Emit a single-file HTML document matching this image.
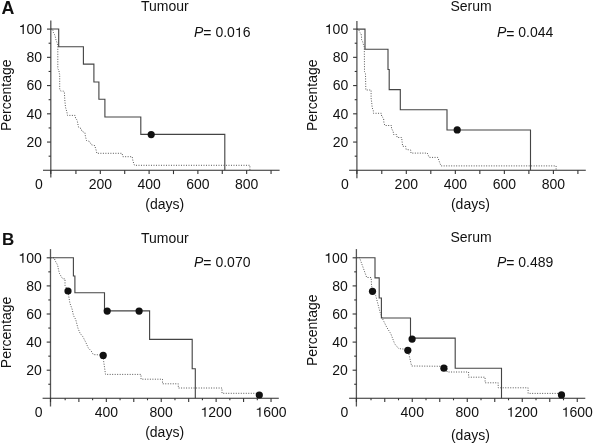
<!DOCTYPE html>
<html><head><meta charset="utf-8"><style>
html,body{margin:0;padding:0;background:#fff;}
svg{display:block;will-change:transform;}
text{font-family:"Liberation Sans", sans-serif;fill:#111;}
</style></head><body>
<svg width="593" height="444" viewBox="0 0 593 444">
<line x1="50.8" y1="20.5" x2="50.8" y2="177.5" stroke="#555" stroke-width="1.3"/>
<line x1="43" y1="170.3" x2="279.6" y2="170.3" stroke="#2a2a2a" stroke-width="1.05"/>
<line x1="48.6" y1="156.18" x2="50.8" y2="156.18" stroke="#333" stroke-width="1.1"/>
<line x1="47" y1="142.06" x2="50.8" y2="142.06" stroke="#333" stroke-width="1.1"/>
<line x1="48.6" y1="127.94" x2="50.8" y2="127.94" stroke="#333" stroke-width="1.1"/>
<line x1="47" y1="113.82" x2="50.8" y2="113.82" stroke="#333" stroke-width="1.1"/>
<line x1="48.6" y1="99.7" x2="50.8" y2="99.7" stroke="#333" stroke-width="1.1"/>
<line x1="47" y1="85.58" x2="50.8" y2="85.58" stroke="#333" stroke-width="1.1"/>
<line x1="48.6" y1="71.46" x2="50.8" y2="71.46" stroke="#333" stroke-width="1.1"/>
<line x1="47" y1="57.34" x2="50.8" y2="57.34" stroke="#333" stroke-width="1.1"/>
<line x1="48.6" y1="43.22" x2="50.8" y2="43.22" stroke="#333" stroke-width="1.1"/>
<line x1="47" y1="29.1" x2="50.8" y2="29.1" stroke="#333" stroke-width="1.1"/>
<text x="26.53" y="146.96" font-size="14.0">20</text>
<text x="26.53" y="118.72" font-size="14.0">40</text>
<text x="26.53" y="90.48" font-size="14.0">60</text>
<text x="26.53" y="62.24" font-size="14.0">80</text>
<text x="18.74" y="34" font-size="14.0"> 00</text>
<path d="M740 0L740 1409L612 1409C585 1262 478 1165 196 1148L196 1022L566 1022L566 0Z" fill="#111" transform="translate(18.74 34) scale(0.006836 -0.006836)"/>
<line x1="50.8" y1="170.3" x2="50.8" y2="174.1" stroke="#333" stroke-width="1.1"/>
<line x1="75.93" y1="170.3" x2="75.93" y2="174.1" stroke="#333" stroke-width="1.1"/>
<line x1="100.32" y1="170.3" x2="100.32" y2="174.1" stroke="#333" stroke-width="1.1"/>
<line x1="124.71" y1="170.3" x2="124.71" y2="174.1" stroke="#333" stroke-width="1.1"/>
<line x1="149.1" y1="170.3" x2="149.1" y2="174.1" stroke="#333" stroke-width="1.1"/>
<line x1="173.49" y1="170.3" x2="173.49" y2="174.1" stroke="#333" stroke-width="1.1"/>
<line x1="197.88" y1="170.3" x2="197.88" y2="174.1" stroke="#333" stroke-width="1.1"/>
<line x1="222.27" y1="170.3" x2="222.27" y2="174.1" stroke="#333" stroke-width="1.1"/>
<line x1="246.66" y1="170.3" x2="246.66" y2="174.1" stroke="#333" stroke-width="1.1"/>
<line x1="271.05" y1="170.3" x2="271.05" y2="174.1" stroke="#333" stroke-width="1.1"/>
<text x="88.64" y="188.8" font-size="14.0">200</text>
<text x="137.42" y="188.8" font-size="14.0">400</text>
<text x="186.2" y="188.8" font-size="14.0">600</text>
<text x="234.98" y="188.8" font-size="14.0">800</text>
<text x="35" y="188.8" font-size="14.0" text-anchor="start" font-weight="normal" >0</text>
<line x1="356.9" y1="20.9" x2="356.9" y2="178.3" stroke="#555" stroke-width="1.3"/>
<line x1="349.1" y1="170.3" x2="585.8" y2="170.3" stroke="#2a2a2a" stroke-width="1.05"/>
<line x1="354.7" y1="156.18" x2="356.9" y2="156.18" stroke="#333" stroke-width="1.1"/>
<line x1="353.1" y1="142.06" x2="356.9" y2="142.06" stroke="#333" stroke-width="1.1"/>
<line x1="354.7" y1="127.94" x2="356.9" y2="127.94" stroke="#333" stroke-width="1.1"/>
<line x1="353.1" y1="113.82" x2="356.9" y2="113.82" stroke="#333" stroke-width="1.1"/>
<line x1="354.7" y1="99.7" x2="356.9" y2="99.7" stroke="#333" stroke-width="1.1"/>
<line x1="353.1" y1="85.58" x2="356.9" y2="85.58" stroke="#333" stroke-width="1.1"/>
<line x1="354.7" y1="71.46" x2="356.9" y2="71.46" stroke="#333" stroke-width="1.1"/>
<line x1="353.1" y1="57.34" x2="356.9" y2="57.34" stroke="#333" stroke-width="1.1"/>
<line x1="354.7" y1="43.22" x2="356.9" y2="43.22" stroke="#333" stroke-width="1.1"/>
<line x1="353.1" y1="29.1" x2="356.9" y2="29.1" stroke="#333" stroke-width="1.1"/>
<text x="332.63" y="146.96" font-size="14.0">20</text>
<text x="332.63" y="118.72" font-size="14.0">40</text>
<text x="332.63" y="90.48" font-size="14.0">60</text>
<text x="332.63" y="62.24" font-size="14.0">80</text>
<text x="324.84" y="34" font-size="14.0"> 00</text>
<path d="M740 0L740 1409L612 1409C585 1262 478 1165 196 1148L196 1022L566 1022L566 0Z" fill="#111" transform="translate(324.84 34) scale(0.006836 -0.006836)"/>
<line x1="356.9" y1="170.3" x2="356.9" y2="174.1" stroke="#333" stroke-width="1.1"/>
<line x1="381.78" y1="170.3" x2="381.78" y2="174.1" stroke="#333" stroke-width="1.1"/>
<line x1="406.3" y1="170.3" x2="406.3" y2="174.1" stroke="#333" stroke-width="1.1"/>
<line x1="430.81" y1="170.3" x2="430.81" y2="174.1" stroke="#333" stroke-width="1.1"/>
<line x1="455.33" y1="170.3" x2="455.33" y2="174.1" stroke="#333" stroke-width="1.1"/>
<line x1="479.84" y1="170.3" x2="479.84" y2="174.1" stroke="#333" stroke-width="1.1"/>
<line x1="504.36" y1="170.3" x2="504.36" y2="174.1" stroke="#333" stroke-width="1.1"/>
<line x1="528.88" y1="170.3" x2="528.88" y2="174.1" stroke="#333" stroke-width="1.1"/>
<line x1="553.39" y1="170.3" x2="553.39" y2="174.1" stroke="#333" stroke-width="1.1"/>
<line x1="577.9" y1="170.3" x2="577.9" y2="174.1" stroke="#333" stroke-width="1.1"/>
<text x="394.62" y="188.8" font-size="14.0">200</text>
<text x="443.65" y="188.8" font-size="14.0">400</text>
<text x="492.68" y="188.8" font-size="14.0">600</text>
<text x="541.71" y="188.8" font-size="14.0">800</text>
<text x="341.1" y="188.8" font-size="14.0" text-anchor="start" font-weight="normal" >0</text>
<line x1="50.5" y1="249.1" x2="50.5" y2="406.5" stroke="#555" stroke-width="1.3"/>
<line x1="42.6" y1="398.3" x2="278.8" y2="398.3" stroke="#2a2a2a" stroke-width="1.05"/>
<line x1="48.3" y1="384.25" x2="50.5" y2="384.25" stroke="#333" stroke-width="1.1"/>
<line x1="46.7" y1="370.2" x2="50.5" y2="370.2" stroke="#333" stroke-width="1.1"/>
<line x1="48.3" y1="356.15" x2="50.5" y2="356.15" stroke="#333" stroke-width="1.1"/>
<line x1="46.7" y1="342.1" x2="50.5" y2="342.1" stroke="#333" stroke-width="1.1"/>
<line x1="48.3" y1="328.05" x2="50.5" y2="328.05" stroke="#333" stroke-width="1.1"/>
<line x1="46.7" y1="314" x2="50.5" y2="314" stroke="#333" stroke-width="1.1"/>
<line x1="48.3" y1="299.95" x2="50.5" y2="299.95" stroke="#333" stroke-width="1.1"/>
<line x1="46.7" y1="285.9" x2="50.5" y2="285.9" stroke="#333" stroke-width="1.1"/>
<line x1="48.3" y1="271.85" x2="50.5" y2="271.85" stroke="#333" stroke-width="1.1"/>
<line x1="46.7" y1="257.8" x2="50.5" y2="257.8" stroke="#333" stroke-width="1.1"/>
<text x="26.23" y="375.1" font-size="14.0">20</text>
<text x="26.23" y="347" font-size="14.0">40</text>
<text x="26.23" y="318.9" font-size="14.0">60</text>
<text x="26.23" y="290.8" font-size="14.0">80</text>
<text x="18.44" y="262.7" font-size="14.0"> 00</text>
<path d="M740 0L740 1409L612 1409C585 1262 478 1165 196 1148L196 1022L566 1022L566 0Z" fill="#111" transform="translate(18.44 262.7) scale(0.006836 -0.006836)"/>
<line x1="50.5" y1="398.3" x2="50.5" y2="402.1" stroke="#333" stroke-width="1.1"/>
<line x1="65.16" y1="398.3" x2="65.16" y2="400.3" stroke="#333" stroke-width="1.1"/>
<line x1="78.88" y1="398.3" x2="78.88" y2="402.1" stroke="#333" stroke-width="1.1"/>
<line x1="92.61" y1="398.3" x2="92.61" y2="400.3" stroke="#333" stroke-width="1.1"/>
<line x1="106.33" y1="398.3" x2="106.33" y2="402.1" stroke="#333" stroke-width="1.1"/>
<line x1="120.06" y1="398.3" x2="120.06" y2="400.3" stroke="#333" stroke-width="1.1"/>
<line x1="133.78" y1="398.3" x2="133.78" y2="402.1" stroke="#333" stroke-width="1.1"/>
<line x1="147.5" y1="398.3" x2="147.5" y2="400.3" stroke="#333" stroke-width="1.1"/>
<line x1="161.23" y1="398.3" x2="161.23" y2="402.1" stroke="#333" stroke-width="1.1"/>
<line x1="174.96" y1="398.3" x2="174.96" y2="400.3" stroke="#333" stroke-width="1.1"/>
<line x1="188.68" y1="398.3" x2="188.68" y2="402.1" stroke="#333" stroke-width="1.1"/>
<line x1="202.41" y1="398.3" x2="202.41" y2="400.3" stroke="#333" stroke-width="1.1"/>
<line x1="216.13" y1="398.3" x2="216.13" y2="402.1" stroke="#333" stroke-width="1.1"/>
<line x1="229.86" y1="398.3" x2="229.86" y2="400.3" stroke="#333" stroke-width="1.1"/>
<line x1="243.58" y1="398.3" x2="243.58" y2="402.1" stroke="#333" stroke-width="1.1"/>
<line x1="257.31" y1="398.3" x2="257.31" y2="400.3" stroke="#333" stroke-width="1.1"/>
<line x1="271.03" y1="398.3" x2="271.03" y2="402.1" stroke="#333" stroke-width="1.1"/>
<text x="94.65" y="416.8" font-size="14.0">400</text>
<text x="149.55" y="416.8" font-size="14.0">800</text>
<text x="200.56" y="416.8" font-size="14.0"> 200</text>
<path d="M740 0L740 1409L612 1409C585 1262 478 1165 196 1148L196 1022L566 1022L566 0Z" fill="#111" transform="translate(200.56 416.8) scale(0.006836 -0.006836)"/>
<text x="255.46" y="416.8" font-size="14.0"> 600</text>
<path d="M740 0L740 1409L612 1409C585 1262 478 1165 196 1148L196 1022L566 1022L566 0Z" fill="#111" transform="translate(255.46 416.8) scale(0.006836 -0.006836)"/>
<text x="34.7" y="416.8" font-size="14.0" text-anchor="start" font-weight="normal" >0</text>
<line x1="356.4" y1="249.1" x2="356.4" y2="406.5" stroke="#555" stroke-width="1.3"/>
<line x1="349.1" y1="398.3" x2="585.3" y2="398.3" stroke="#2a2a2a" stroke-width="1.05"/>
<line x1="354.2" y1="384.25" x2="356.4" y2="384.25" stroke="#333" stroke-width="1.1"/>
<line x1="352.6" y1="370.2" x2="356.4" y2="370.2" stroke="#333" stroke-width="1.1"/>
<line x1="354.2" y1="356.15" x2="356.4" y2="356.15" stroke="#333" stroke-width="1.1"/>
<line x1="352.6" y1="342.1" x2="356.4" y2="342.1" stroke="#333" stroke-width="1.1"/>
<line x1="354.2" y1="328.05" x2="356.4" y2="328.05" stroke="#333" stroke-width="1.1"/>
<line x1="352.6" y1="314" x2="356.4" y2="314" stroke="#333" stroke-width="1.1"/>
<line x1="354.2" y1="299.95" x2="356.4" y2="299.95" stroke="#333" stroke-width="1.1"/>
<line x1="352.6" y1="285.9" x2="356.4" y2="285.9" stroke="#333" stroke-width="1.1"/>
<line x1="354.2" y1="271.85" x2="356.4" y2="271.85" stroke="#333" stroke-width="1.1"/>
<line x1="352.6" y1="257.8" x2="356.4" y2="257.8" stroke="#333" stroke-width="1.1"/>
<text x="332.13" y="375.1" font-size="14.0">20</text>
<text x="332.13" y="347" font-size="14.0">40</text>
<text x="332.13" y="318.9" font-size="14.0">60</text>
<text x="332.13" y="290.8" font-size="14.0">80</text>
<text x="324.34" y="262.7" font-size="14.0"> 00</text>
<path d="M740 0L740 1409L612 1409C585 1262 478 1165 196 1148L196 1022L566 1022L566 0Z" fill="#111" transform="translate(324.34 262.7) scale(0.006836 -0.006836)"/>
<line x1="356.4" y1="398.3" x2="356.4" y2="402.1" stroke="#333" stroke-width="1.1"/>
<line x1="371.01" y1="398.3" x2="371.01" y2="400.3" stroke="#333" stroke-width="1.1"/>
<line x1="384.76" y1="398.3" x2="384.76" y2="402.1" stroke="#333" stroke-width="1.1"/>
<line x1="398.51" y1="398.3" x2="398.51" y2="400.3" stroke="#333" stroke-width="1.1"/>
<line x1="412.26" y1="398.3" x2="412.26" y2="402.1" stroke="#333" stroke-width="1.1"/>
<line x1="426.01" y1="398.3" x2="426.01" y2="400.3" stroke="#333" stroke-width="1.1"/>
<line x1="439.76" y1="398.3" x2="439.76" y2="402.1" stroke="#333" stroke-width="1.1"/>
<line x1="453.51" y1="398.3" x2="453.51" y2="400.3" stroke="#333" stroke-width="1.1"/>
<line x1="467.26" y1="398.3" x2="467.26" y2="402.1" stroke="#333" stroke-width="1.1"/>
<line x1="481.01" y1="398.3" x2="481.01" y2="400.3" stroke="#333" stroke-width="1.1"/>
<line x1="494.76" y1="398.3" x2="494.76" y2="402.1" stroke="#333" stroke-width="1.1"/>
<line x1="508.51" y1="398.3" x2="508.51" y2="400.3" stroke="#333" stroke-width="1.1"/>
<line x1="522.26" y1="398.3" x2="522.26" y2="402.1" stroke="#333" stroke-width="1.1"/>
<line x1="536.01" y1="398.3" x2="536.01" y2="400.3" stroke="#333" stroke-width="1.1"/>
<line x1="549.76" y1="398.3" x2="549.76" y2="402.1" stroke="#333" stroke-width="1.1"/>
<line x1="563.51" y1="398.3" x2="563.51" y2="400.3" stroke="#333" stroke-width="1.1"/>
<line x1="577.26" y1="398.3" x2="577.26" y2="402.1" stroke="#333" stroke-width="1.1"/>
<text x="400.58" y="416.8" font-size="14.0">400</text>
<text x="455.58" y="416.8" font-size="14.0">800</text>
<text x="506.69" y="416.8" font-size="14.0"> 200</text>
<path d="M740 0L740 1409L612 1409C585 1262 478 1165 196 1148L196 1022L566 1022L566 0Z" fill="#111" transform="translate(506.69 416.8) scale(0.006836 -0.006836)"/>
<text x="561.69" y="416.8" font-size="14.0"> 600</text>
<path d="M740 0L740 1409L612 1409C585 1262 478 1165 196 1148L196 1022L566 1022L566 0Z" fill="#111" transform="translate(561.69 416.8) scale(0.006836 -0.006836)"/>
<text x="340.6" y="416.8" font-size="14.0" text-anchor="start" font-weight="normal" >0</text>
<path d="M50.8 29.05 H58.7 V46.8 H83.4 V64.1 H93.9 V82 H98.9 V99.2 H104.9 V117 H140.8 V134.4 H224.8 V170.3" fill="none" stroke="#444" stroke-width="1.12" stroke-linejoin="miter"/>
<path d="M50.7 29.1 L52.6 29.1 L53.4 32.4 L55 35.5 L56 40 L57 42.5 L57.8 46 L57.8 68.8 L58.8 70.1 L59.4 73.5 L59.7 74 L59.7 89.1 L60.8 91.1 L63.5 91.1 L64.4 92.4 L64.8 99.9 L65.5 107.3 L66.9 112 L67.5 115.4 L75.1 115.4 L75.6 118.2 L77.2 120.3 L77.7 123.4 L78.7 127.5 L81.3 128.6 L81.8 131.2 L84.9 132.7 L85.5 136.8 L86.5 140.5 L89.6 141.5 L91.2 144.6 L92.7 145.1 L94.8 145.6 L96.3 150.8 L96.8 153.3 L122.1 153.3 L122.8 156.7 L132.2 156.7 L133 161.3 L134.5 165.3 L249.9 165.3 L249.9 170.3" fill="none" stroke="#444" stroke-width="0.9" stroke-dasharray="1 1.5"/>
<circle cx="151.2" cy="134.6" r="3.6" fill="#111"/>
<path d="M356.9 29.1 H365 V49.28 H388 V69.44 H389.2 V89.62 H400.3 V109.78 H447 V129.96 H530.5 V170.3" fill="none" stroke="#444" stroke-width="1.12" stroke-linejoin="miter"/>
<path d="M356.9 29.3 L358.7 29.3 L359.5 32.1 L361.1 33.6 L361.5 36.6 L361.6 39.7 L362.6 41.7 L363.6 45.2 L364.3 47 L364.5 71.6 L365.5 73.8 L365.8 90 L371.1 90 L371.1 98.1 L371.7 102.4 L372.2 107.8 L373.3 110.5 L373.5 113.3 L381.4 113.3 L381.6 116.4 L383.6 118.1 L383.9 122.6 L384.8 125.5 L391.5 125.5 L391.5 128.3 L393.2 131.6 L393.5 134.5 L396.6 134.5 L397.1 137.5 L401.6 137.5 L402.2 142.3 L402.6 146.3 L405.6 146.3 L406.2 149.5 L410.7 150 L411 153.1 L427.3 153.1 L429.2 157.4 L437.8 157.4 L439.7 162.6 L441 165.9 L556.1 165.9 L556.1 170.3" fill="none" stroke="#444" stroke-width="0.9" stroke-dasharray="1 1.5"/>
<circle cx="457.2" cy="129.96" r="3.6" fill="#111"/>
<path d="M50.5 257.75 H73.4 V276 H74.9 V292.8 H104.5 V310.9 H149.6 V339.4 H192.2 V368.7 H195.3 V398.3" fill="none" stroke="#444" stroke-width="1.12" stroke-linejoin="miter"/>
<path d="M50.5 257.8 L54.2 257.8 L55.1 260.6 L57.6 265.1 L58.6 270.2 L59.6 273.7 L61.7 277.3 L62.7 278.8 L65 278.8 L65 285.4 L68 291 L68.7 296 L69.9 303.2 L72.1 309.1 L73.5 315.7 L75.7 319.4 L77.9 328.1 L80.1 333.3 L83 336.9 L86 342.8 L88.2 347.9 L91.1 350.8 L93.3 354.6 L103.1 355 L103.4 359.4 L105.5 374.4 L141 374.4 L141 379.2 L162.5 379.2 L162.5 383.8 L178.3 383.8 L178.3 388 L222 388 L222 393.3 L259.3 393.3" fill="none" stroke="#444" stroke-width="0.9" stroke-dasharray="1 1.5"/>
<circle cx="68" cy="291" r="3.6" fill="#111"/>
<circle cx="103.2" cy="355.4" r="3.6" fill="#111"/>
<circle cx="259.3" cy="395" r="3.6" fill="#111"/>
<circle cx="107.2" cy="311.1" r="3.6" fill="#111"/>
<circle cx="139.1" cy="311.1" r="3.6" fill="#111"/>
<path d="M356.4 257.8 H375 V277.88 H379.2 V297.94 H381.4 V318.02 H410.5 V338.08 H455.2 V368.19 H501.5 V398.3" fill="none" stroke="#444" stroke-width="1.12" stroke-linejoin="miter"/>
<path d="M356.4 257.8 L359.6 257.8 L360.6 260.6 L366.7 277.5 L371.2 277.5 L371.5 285 L372.5 291.3 L375.7 295.5 L380.2 312.7 L382.1 317.9 L386.8 327.4 L390.8 333.7 L394.7 343.9 L398.7 348.6 L407.8 349.5 L408.9 354.2 L411.6 366 L443.9 366.3 L447 366.3 L447 372 L468.6 372 L468.6 377.2 L485.1 377.2 L485.1 382.8 L498.2 382.8 L498.2 387.8 L528.1 387.8 L528.1 393.4 L561.5 393.4" fill="none" stroke="#444" stroke-width="0.9" stroke-dasharray="1 1.5"/>
<circle cx="372.5" cy="291.3" r="3.6" fill="#111"/>
<circle cx="407.8" cy="350.3" r="3.6" fill="#111"/>
<circle cx="443.9" cy="368.2" r="3.6" fill="#111"/>
<circle cx="561.5" cy="394.9" r="3.6" fill="#111"/>
<circle cx="412.1" cy="339.1" r="3.6" fill="#111"/>
<text x="1.5" y="13.7" font-size="17.8" text-anchor="start" font-weight="bold" >A</text>
<text x="2.1" y="244.7" font-size="17.0" text-anchor="start" font-weight="bold" >B</text>
<text x="141" y="11.3" font-size="14.0" text-anchor="start" font-weight="normal" >Tumour</text>
<text x="450.5" y="11.2" font-size="14.0" text-anchor="start" font-weight="normal" >Serum</text>
<text x="141" y="242.6" font-size="14.0" text-anchor="start" font-weight="normal" >Tumour</text>
<text x="450.5" y="242.2" font-size="14.0" text-anchor="start" font-weight="normal" >Serum</text>
<text x="194" y="37.1" font-size="14.0"><tspan font-style="italic">P</tspan><tspan dy="1.3">=</tspan><tspan dy="-1.3"> 0.0 6</tspan></text>
<path d="M740 0L740 1409L612 1409C585 1262 478 1165 196 1148L196 1022L566 1022L566 0Z" fill="#111" transform="translate(234.87 37.1) scale(0.006836 -0.006836)"/>
<text x="496.9" y="37.4" font-size="14.0"><tspan font-style="italic">P</tspan><tspan dy="1.3">=</tspan><tspan dy="-1.3"> 0.044</tspan></text>
<text x="194" y="266.8" font-size="14.0"><tspan font-style="italic">P</tspan><tspan dy="1.3">=</tspan><tspan dy="-1.3"> 0.070</tspan></text>
<text x="496.9" y="266.8" font-size="14.0"><tspan font-style="italic">P</tspan><tspan dy="1.3">=</tspan><tspan dy="-1.3"> 0.489</tspan></text>
<text x="164.8" y="209.2" font-size="14.0" text-anchor="middle" font-weight="normal" >(days)</text>
<text x="470.4" y="209" font-size="14.0" text-anchor="middle" font-weight="normal" >(days)</text>
<text x="164.6" y="436.6" font-size="14.0" text-anchor="middle" font-weight="normal" >(days)</text>
<text x="470.4" y="440.2" font-size="14.0" text-anchor="middle" font-weight="normal" >(days)</text>
<text x="0" y="0" font-size="14.0" transform="translate(10.7 131) rotate(-90)">Percentage</text>
<text x="0" y="0" font-size="14.0" transform="translate(316.6 131) rotate(-90)">Percentage</text>
<text x="0" y="0" font-size="14.0" transform="translate(10.7 368.2) rotate(-90)">Percentage</text>
<text x="0" y="0" font-size="14.0" transform="translate(316.6 366.1) rotate(-90)">Percentage</text>
</svg>
</body></html>
